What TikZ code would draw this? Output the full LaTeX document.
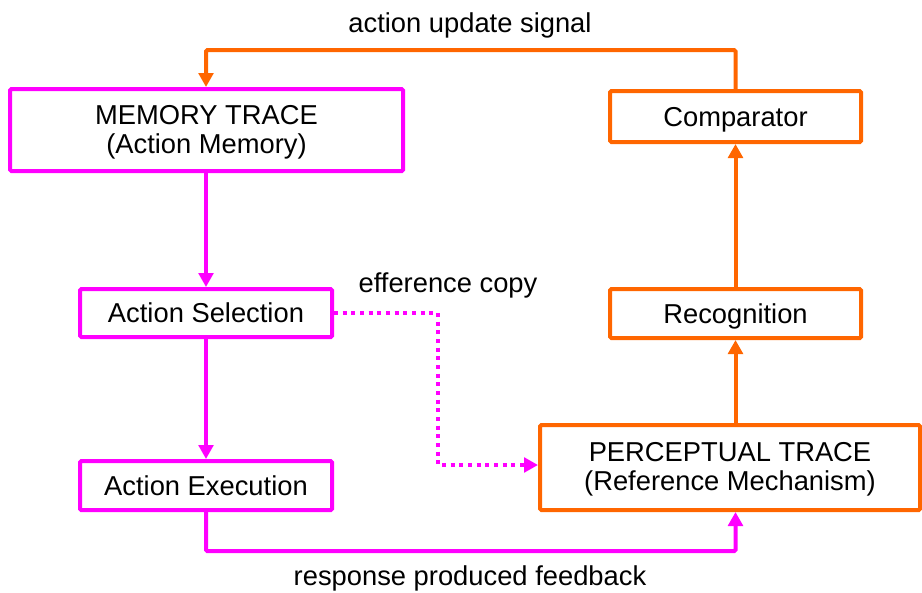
\documentclass[tikz,border=0pt]{standalone}
\usepackage{fontspec}
\setmainfont{Liberation Sans}
\usetikzlibrary{arrows.meta}
\definecolor{mag}{HTML}{FF00FF}
\definecolor{org}{HTML}{FF6600}
\begin{document}
\begin{tikzpicture}[x=0.75pt,y=-0.75pt,
  box/.style={draw,line width=3pt,rounded corners=1pt,font=\fontsize{20.5}{21.5}\selectfont,align=center,inner sep=0pt},
  one/.style={text height=18.5pt,text depth=3.7pt},
  magbox/.style={box,draw=mag},
  orgbox/.style={box,draw=org},
  conn/.style={line width=3pt,-{Triangle[length=10.5pt,width=11pt]}},
  lbl/.style={font=\fontsize{20.5}{25}\selectfont}]
\useasboundingbox (0,0) rectangle (922,593);
\node[magbox,text height=38.7pt,text depth=3.7pt,minimum width=393*0.75pt,minimum height=82*0.75pt] (mem) at (206.5,130) {MEMORY TRACE\\(Action Memory)};
\node[magbox,one,minimum width=252*0.75pt,minimum height=48*0.75pt] (sel) at (206,313) {Action Selection};
\node[magbox,one,minimum width=252*0.75pt,minimum height=49*0.75pt] (exe) at (206,485.5) {Action Execution};
\node[orgbox,one,minimum width=251*0.75pt,minimum height=51*0.75pt] (cmp) at (735.5,116.5) {Comparator};
\node[orgbox,one,minimum width=251*0.75pt,minimum height=49*0.75pt] (rec) at (735.5,313.5) {Recognition};
\node[orgbox,text height=37.5pt,text depth=3.7pt,minimum width=380*0.75pt,minimum height=85*0.75pt] (per) at (730,467.5) {PERCEPTUAL TRACE\\(Reference Mechanism)};
\coordinate (top) at (470,50);
\node[lbl] (l1) at (470,25) {action update signal};
\node[lbl] (l2) at (448,285) {efference copy};
\node[lbl] (l3) at (470,578) {response produced feedback};
\draw[conn,color=mag] (mem.south -| sel.north) -- (sel.north);
\draw[conn,color=mag] (sel) -- (exe);
\draw[conn,color=mag,rounded corners=1pt] (exe.south) -- ++(0,39) -| (per.south -| rec.south);
\draw[conn,color=mag,dash pattern=on 3pt off 3.5pt] (sel.east) -- ++(104,0) |- (per.west |- 0,465);
\draw[conn,color=org] (per.north -| rec.south) -- (rec.south);
\draw[conn,color=org] (rec.north) -- (cmp.south);
\draw[conn,color=org,rounded corners=1pt] (cmp.north) |- (top) -| (mem.north -| sel.north);
\end{tikzpicture}
\end{document}
